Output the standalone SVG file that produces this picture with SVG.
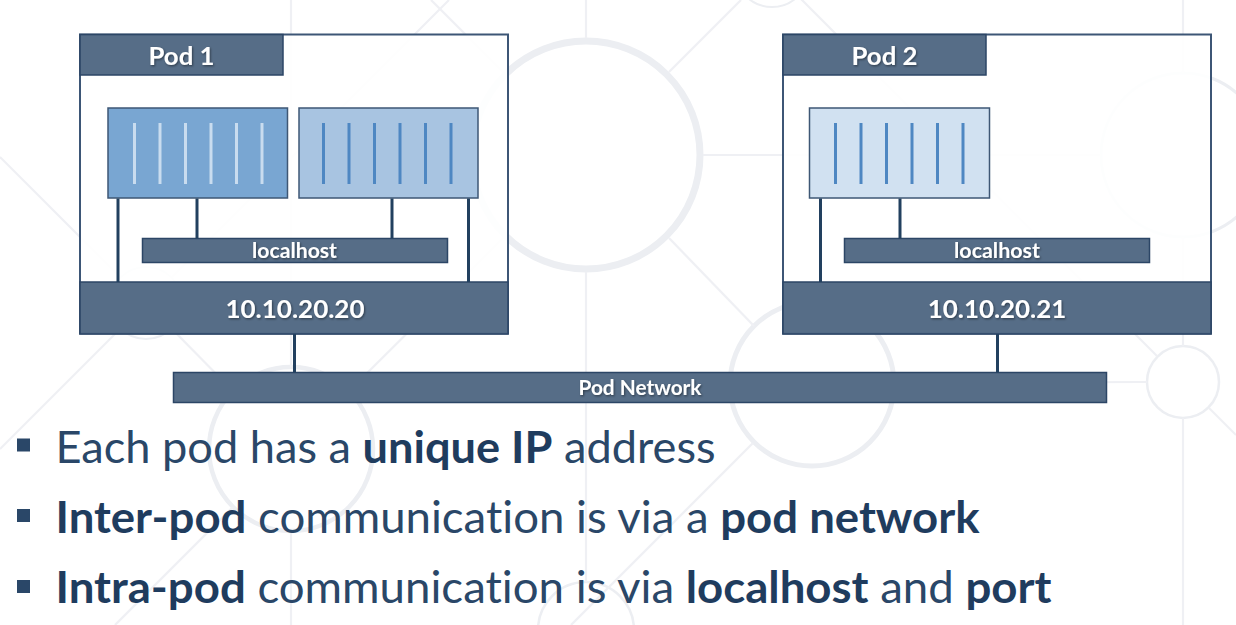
<svg xmlns="http://www.w3.org/2000/svg" width="1236" height="625" viewBox="0 0 1236 625">
  <defs>
    <style>
      .bg-ring { fill: none; stroke: #ECEEF2; }
      .bg-line { stroke: #EFF0F4; stroke-width: 2.2; fill: none; }
      .pod { fill: #FFFFFF; fill-opacity: 0.9; stroke: #3D5676; stroke-width: 2; }
      .bar { fill: #4F6782; fill-opacity: 0.96; stroke: #2C4666; stroke-width: 1.5; }
      .c-dark { fill: #79A6D2; stroke: #3E5775; stroke-width: 1.5; }
      .c-mid { fill: #A8C4E1; stroke: #3E5775; stroke-width: 1.5; }
      .c-light { fill: #D1E1F1; stroke: #3E5775; stroke-width: 1.5; }
      .stripe-light { stroke: #C9DCEF; stroke-width: 3; }
      .stripe-blue { stroke: #4E87C2; stroke-width: 3; }
      .wire { stroke: #22405F; stroke-width: 3; fill: none; }
      text { font-variant-ligatures: none; font-feature-settings: "liga" 0, "clig" 0, "dlig" 0; }
      .lbl { font-family: Lato, "Open Sans", "Liberation Sans", sans-serif; font-weight: 700; fill: #FFFFFF; text-anchor: middle; filter: url(#txtShadow); }
      .bullet { font-family: Lato, "Open Sans", "Liberation Sans", sans-serif; font-size: 44px; fill: #2A4768; }
      .b { font-weight: 700; fill: #1F3C5E; }
      .sq { fill: #2A4768; }
    </style>
    <filter id="txtShadow" x="-10%" y="-30%" width="120%" height="160%">
      <feDropShadow dx="1" dy="1.2" stdDeviation="0.8" flood-color="#000000" flood-opacity="0.45"/>
    </filter>
  </defs>

  <rect width="1236" height="625" fill="#FFFFFF"/>

  <!-- decorative network pattern in the background -->
  <g id="background">
    <circle class="bg-ring" cx="586" cy="155" r="114" stroke-width="7"/>
    <circle class="bg-ring" cx="1183" cy="155" r="82" stroke-width="3" stroke="#F1F2F5"/>
    <circle class="bg-ring" cx="1183" cy="382" r="36" stroke-width="2.5"/>
    <circle class="bg-ring" cx="812" cy="384" r="82" stroke-width="5"/>
    <circle class="bg-ring" cx="291" cy="449" r="82" stroke-width="4.5"/>
    <circle class="bg-ring" cx="146" cy="303" r="36" stroke-width="2"/>
    <circle class="bg-ring" cx="772" cy="-30" r="37" stroke-width="2"/>
    <circle class="bg-ring" cx="586" cy="630" r="48" stroke-width="2.5"/>
    <!-- spokes -->
    <line class="bg-line" x1="586" y1="0" x2="586" y2="38"/>
    <line class="bg-line" x1="586" y1="272" x2="586" y2="582"/>
    <line class="bg-line" x1="703" y1="155" x2="1101" y2="155"/>
    <line class="bg-line" x1="669" y1="72" x2="741" y2="0"/>
    <line class="bg-line" x1="503" y1="72" x2="431" y2="0"/>
    <line class="bg-line" x1="669" y1="238" x2="754" y2="326"/>
    <line class="bg-line" x1="503" y1="238" x2="349" y2="391"/>
    <line class="bg-line" x1="172" y1="277" x2="449" y2="0"/>
    <line class="bg-line" x1="120" y1="277" x2="0" y2="157"/>
    <line class="bg-line" x1="120" y1="329" x2="0" y2="449"/>
    <line class="bg-line" x1="172" y1="329" x2="233" y2="391"/>
    <line class="bg-line" x1="233" y1="507" x2="115" y2="625"/>
    <line class="bg-line" x1="291" y1="0" x2="291" y2="367"/>
    <line class="bg-line" x1="291" y1="531" x2="291" y2="625"/>
    <line class="bg-line" x1="753" y1="443" x2="571" y2="625"/>
    <line class="bg-line" x1="894" y1="383" x2="1147" y2="382"/>
    <line class="bg-line" x1="798" y1="-4" x2="1157" y2="356"/>
    <line class="bg-line" x1="1209" y1="408" x2="1236" y2="435"/>
    <line class="bg-line" x1="1183" y1="0" x2="1183" y2="73"/>
    <line class="bg-line" x1="1183" y1="237" x2="1183" y2="346"/>
    <line class="bg-line" x1="1183" y1="418" x2="1183" y2="625"/>
  </g>

  <!-- Pod 1 -->
  <g id="pod1">
    <rect class="pod" x="80" y="34.5" width="428" height="299"/>
    <rect class="bar" x="80" y="34.5" width="203" height="40.5"/>
    <text class="lbl" x="181.5" y="65" font-size="25.5" textLength="66" lengthAdjust="spacingAndGlyphs">Pod 1</text>
  </g>
  <g id="pod1-container1">
    <rect class="c-dark" x="108" y="108" width="179.5" height="90"/>
    <g class="stripe-light">
      <line x1="134.5" y1="123" x2="134.5" y2="184"/>
      <line x1="160" y1="123" x2="160" y2="184"/>
      <line x1="185.5" y1="123" x2="185.5" y2="184"/>
      <line x1="211" y1="123" x2="211" y2="184"/>
      <line x1="236.5" y1="123" x2="236.5" y2="184"/>
      <line x1="262" y1="123" x2="262" y2="184"/>
    </g>
  </g>
  <g id="pod1-container2">
    <rect class="c-mid" x="299" y="108" width="179" height="90"/>
    <g class="stripe-blue">
      <line x1="323.5" y1="123" x2="323.5" y2="184"/>
      <line x1="349" y1="123" x2="349" y2="184"/>
      <line x1="374.5" y1="123" x2="374.5" y2="184"/>
      <line x1="400" y1="123" x2="400" y2="184"/>
      <line x1="425.5" y1="123" x2="425.5" y2="184"/>
      <line x1="451" y1="123" x2="451" y2="184"/>
    </g>
  </g>
  <g id="pod1-localhost">
    <rect class="bar" x="142.5" y="238.5" width="305" height="24"/>
    <text class="lbl" x="294.5" y="257.5" font-size="21" textLength="85" lengthAdjust="spacingAndGlyphs">localhost</text>
  </g>
  <g id="pod1-ip">
    <rect class="bar" x="80" y="282" width="428" height="52"/>
    <text class="lbl" x="295" y="317.5" font-size="25.5" textLength="139" lengthAdjust="spacingAndGlyphs">10.10.20.20</text>
  </g>

  <!-- Pod 2 -->
  <g id="pod2">
    <rect class="pod" x="783" y="34.5" width="428" height="299"/>
    <rect class="bar" x="783" y="34.5" width="203" height="40.5"/>
    <text class="lbl" x="884.5" y="65" font-size="25.5" textLength="66" lengthAdjust="spacingAndGlyphs">Pod 2</text>
  </g>
  <g id="pod2-container1">
    <rect class="c-light" x="809.5" y="108" width="180" height="90"/>
    <g class="stripe-blue">
      <line x1="835.5" y1="123" x2="835.5" y2="184"/>
      <line x1="861" y1="123" x2="861" y2="184"/>
      <line x1="886.5" y1="123" x2="886.5" y2="184"/>
      <line x1="912" y1="123" x2="912" y2="184"/>
      <line x1="937.5" y1="123" x2="937.5" y2="184"/>
      <line x1="963" y1="123" x2="963" y2="184"/>
    </g>
  </g>
  <g id="pod2-localhost">
    <rect class="bar" x="844.5" y="238.5" width="305" height="24"/>
    <text class="lbl" x="997" y="257.5" font-size="21" textLength="86" lengthAdjust="spacingAndGlyphs">localhost</text>
  </g>
  <g id="pod2-ip">
    <rect class="bar" x="783" y="282" width="428" height="52"/>
    <text class="lbl" x="997" y="317.5" font-size="25.5" textLength="138.5" lengthAdjust="spacingAndGlyphs">10.10.20.21</text>
  </g>

  <!-- shared network -->
  <g id="pod-network">
    <rect class="bar" x="173.5" y="372.5" width="933" height="30"/>
    <text class="lbl" x="640" y="395" font-size="21" textLength="123" lengthAdjust="spacingAndGlyphs">Pod Network</text>
  </g>

  <!-- links between containers, localhost buses, pod IPs and the network -->
  <g id="connectors" class="wire">
    <line x1="118" y1="198.5" x2="118" y2="282"/>
    <line x1="197" y1="198.5" x2="197" y2="238.5"/>
    <line x1="392" y1="198.5" x2="392" y2="238.5"/>
    <line x1="468.5" y1="198.5" x2="468.5" y2="282"/>
    <line x1="820.5" y1="198.5" x2="820.5" y2="282"/>
    <line x1="900" y1="198.5" x2="900" y2="238.5"/>
    <line x1="294.5" y1="334" x2="294.5" y2="372.5"/>
    <line x1="997.5" y1="334" x2="997.5" y2="372.5"/>
  </g>

  <!-- bullet list -->
  <g id="notes">
    <rect class="sq" x="17" y="438.5" width="13" height="13"/>
    <rect class="sq" x="17" y="509" width="13" height="13"/>
    <rect class="sq" x="17" y="580" width="13" height="13"/>
    <text class="bullet" x="55.5" y="462.5" textLength="660" lengthAdjust="spacingAndGlyphs">Each pod has a <tspan class="b">unique IP</tspan> address</text>
    <text class="bullet" x="55.5" y="532.5" textLength="924" lengthAdjust="spacingAndGlyphs"><tspan class="b">Inter-pod</tspan> communication is via a <tspan class="b">pod network</tspan></text>
    <text class="bullet" x="55.5" y="603" textLength="996" lengthAdjust="spacingAndGlyphs"><tspan class="b">Intra-pod</tspan> communication is via <tspan class="b">localhost</tspan> and <tspan class="b">port</tspan></text>
  </g>
</svg>
